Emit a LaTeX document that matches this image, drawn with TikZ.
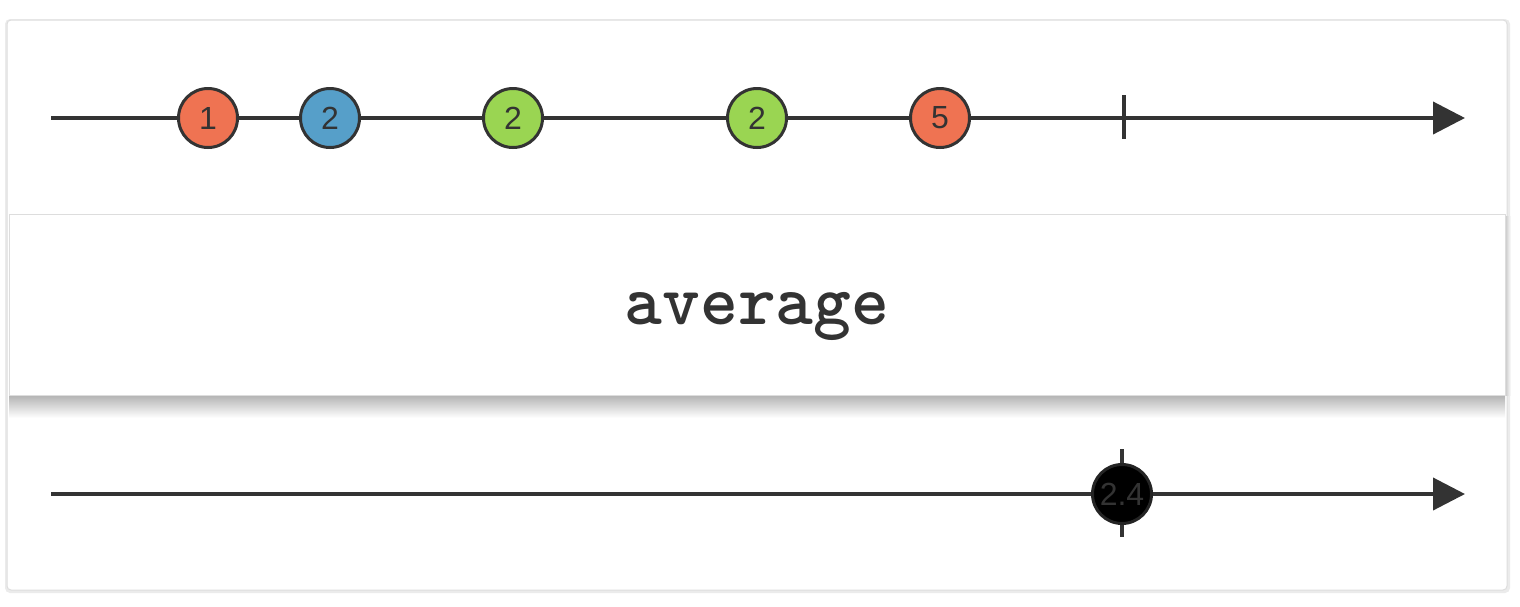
\documentclass[tikz,border=0pt]{standalone}
\usepackage{fontspec}
\setmainfont{Liberation Sans}
\usetikzlibrary{arrows.meta}
\definecolor{ink}{HTML}{333333}
\definecolor{morange}{HTML}{EF7352}
\definecolor{mblue}{HTML}{569FC9}
\definecolor{mgreen}{HTML}{9AD552}
\definecolor{cardedge}{HTML}{DDDDDD}
\tikzset{
  marble/.style={circle, draw=ink, line width=3pt, minimum size=59pt, inner sep=0pt,
    font=\fontsize{32}{32}\selectfont, text=ink},
  timeline/.style={draw=ink, line width=4pt, -{Triangle[length=32pt,width=32pt]}},
  tickline/.style={draw=ink, line width=4pt},
  card/.style={fill=white, draw=cardedge, line width=1pt, rounded corners=4pt},
  opbox/.style={fill=white, draw=cardedge, line width=0.8pt},
}
\begin{document}
\begin{tikzpicture}[x=1pt,y=-1pt]
\useasboundingbox (0,0) rectangle (1520,606);
\fill[white] (0,0) rectangle (1520,606);
% outer card
\fill[black!8,rounded corners=5pt] (5,19) rectangle (1510,593);
\draw[card] (7,20) rectangle (1507,590);
% operator box shadow
\shade[top color=black!30, bottom color=white] (9,395) rectangle (1505,418);
\shade[left color=black!22, right color=white] (1505,216) rectangle (1511,395);
% operator box
\node[opbox, minimum width=1496pt, minimum height=181pt, inner sep=0pt, anchor=north west] (op) at (9,214) {};
\node[font=\ttfamily\bfseries\fontsize{72}{72}\selectfont, text=ink, anchor=base] (optext) at (757,324) {average};
% top timeline
\coordinate (ts) at (51,118);
\coordinate (te) at (1465,118);
\draw[timeline] (ts) -- (te);
\coordinate (tk1a) at (1124,95);
\coordinate (tk1b) at (1124,139);
\draw[tickline] (tk1a) -- (tk1b);
\node[marble, fill=morange] (m1) at (208,118) {1};
\node[marble, fill=mblue] (m2) at (330,118) {2};
\node[marble, fill=mgreen] (m3) at (513,118) {2};
\node[marble, fill=mgreen] (m4) at (757,118) {2};
\node[marble, fill=morange] (m5) at (940,118) {5};
% bottom timeline
\coordinate (bs) at (51,494);
\coordinate (be) at (1465,494);
\draw[timeline] (bs) -- (be);
\coordinate (tk2a) at (1122,449);
\coordinate (tk2b) at (1122,537);
\draw[tickline] (tk2a) -- (tk2b);
\node[marble, fill=black, draw=ink!70!black, text=ink] (r1) at (1122,494) {2.4};
\end{tikzpicture}
\end{document}
